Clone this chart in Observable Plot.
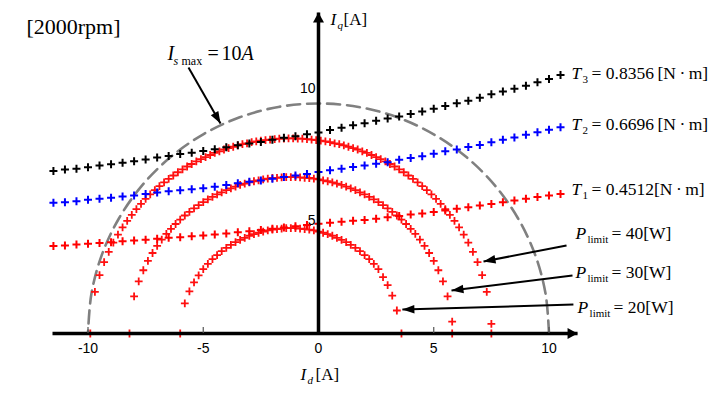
<!DOCTYPE html>
<html><head><meta charset="utf-8">
<script src="https://cdn.jsdelivr.net/npm/d3@7"></script>
<script src="https://cdn.jsdelivr.net/npm/@observablehq/plot@0.6"></script>
<style>body{margin:0;background:#fff}#chart svg{display:block}</style>
</head><body><div id="chart"></div>
<script>
// ---------- data ----------
// constant-torque curves, sampled in Id [A]
const tId = [-11.5,-11,-10.5,-10,-9.5,-9,-8.5,-8,-7.5,-7,-6.5,-6,-5.5,-5,-4.5,-4,-3.5,-3,-2.5,-2,-1.5,-1,-0.5,0,0.5,1,1.5,2,2.5,3,3.5,4,4.5,5,5.5,6,6.5,7,7.5,8,8.5,9,9.5,10,10.5];
const t3Iq = [7.06,7.13,7.16,7.23,7.30,7.36,7.42,7.49,7.57,7.65,7.72,7.80,7.86,7.93,8.01,8.10,8.19,8.26,8.33,8.42,8.51,8.58,8.66,8.74,8.85,8.95,9.05,9.14,9.25,9.35,9.44,9.54,9.65,9.77,9.89,10.01,10.12,10.25,10.40,10.52,10.64,10.77,10.92,11.07,11.24];
const t2Iq = [5.68,5.71,5.75,5.81,5.86,5.90,5.96,6.00,6.07,6.13,6.19,6.23,6.27,6.32,6.38,6.46,6.53,6.60,6.65,6.73,6.80,6.87,6.94,7.02,7.10,7.16,7.24,7.30,7.38,7.45,7.55,7.63,7.71,7.81,7.92,8.00,8.11,8.20,8.31,8.42,8.52,8.64,8.75,8.86,8.97];
const t1Iq = [3.80,3.83,3.87,3.90,3.94,3.97,4.01,4.04,4.08,4.12,4.16,4.19,4.23,4.26,4.30,4.35,4.40,4.45,4.50,4.55,4.61,4.66,4.72,4.77,4.82,4.86,4.90,4.94,4.99,5.05,5.11,5.17,5.22,5.28,5.35,5.42,5.49,5.56,5.63,5.71,5.78,5.86,5.93,6.00,6.07];
const torqueNames = ["3","2","1"];
const torqueValues = ["= 0.8356\u2009[N\u2009·\u2009m]","= 0.6696\u2009[N\u2009·\u2009m]","= 0.4512[N\u2009·\u2009m]"];

// power-limit curves
const p40Id = [-9.9,-9.7,-9.5,-9.3,-9.1,-8.9,-8.7,-8.5,-8.3,-8.1,-7.9,-7.7,-7.5,-7.3,-7.1,-6.9,-6.7,-6.5,-6.3,-6.1,-5.9,-5.7,-5.5,-5.3,-5.1,-4.9,-4.7,-4.5,-4.3,-4.1,-3.9,-3.7,-3.5,-3.3,-3.1,-2.9,-2.7,-2.5,-2.3,-2.1,-1.9,-1.7,-1.5,-1.3,-1.1,-0.9,-0.7,-0.5,-0.3,-0.1,0.1,0.3,0.5,0.7,0.9,1.1,1.3,1.5,1.7,1.9,2.1,2.3,2.5,2.7,2.9,3.1,3.3,3.5,3.7,3.9,4.1,4.3,4.5,4.7,4.9,5.1,5.3,5.5,5.7,5.9,6.1,6.3,6.5,6.7,6.9,7.1,7.3,7.5,7.5];
const p40Iq = [0,1.81,2.54,3.10,3.55,3.95,4.30,4.61,4.90,5.16,5.41,5.64,5.85,6.05,6.23,6.41,6.57,6.72,6.87,7.01,7.14,7.26,7.37,7.48,7.58,7.67,7.76,7.85,7.92,8.00,8.06,8.12,8.18,8.23,8.27,8.32,8.35,8.39,8.41,8.43,8.45,8.47,8.47,8.48,8.48,8.47,8.47,8.45,8.43,8.41,8.39,8.35,8.32,8.27,8.23,8.18,8.12,8.06,8.00,7.92,7.85,7.76,7.67,7.58,7.48,7.37,7.26,7.14,7.01,6.87,6.72,6.57,6.41,6.23,6.05,5.85,5.64,5.41,5.16,4.90,4.61,4.30,3.95,3.55,3.10,2.54,1.81,0.42,0];
const p30Id = [-8.2,-8.0,-7.8,-7.6,-7.4,-7.2,-7.0,-6.8,-6.6,-6.4,-6.2,-6.0,-5.8,-5.6,-5.4,-5.2,-5.0,-4.8,-4.6,-4.4,-4.2,-4.0,-3.8,-3.6,-3.4,-3.2,-3.0,-2.8,-2.6,-2.4,-2.2,-2.0,-1.8,-1.6,-1.4,-1.2,-1.0,-0.8,-0.6,-0.4,-0.2,0,0.2,0.4,0.6,0.8,1.0,1.2,1.4,1.6,1.8,2.0,2.2,2.4,2.6,2.8,3.0,3.2,3.4,3.6,3.8,4.0,4.2,4.4,4.6,4.8,5.0,5.2,5.4,5.6,5.8,5.8];
const p30Iq = [0,1.61,2.27,2.75,3.16,3.50,3.81,4.08,4.33,4.55,4.76,4.95,5.13,5.29,5.44,5.58,5.71,5.83,5.94,6.05,6.14,6.23,6.31,6.39,6.46,6.52,6.57,6.62,6.66,6.70,6.73,6.76,6.77,6.79,6.80,6.80,6.80,6.79,6.77,6.76,6.73,6.70,6.66,6.62,6.57,6.52,6.46,6.39,6.31,6.23,6.14,6.05,5.94,5.83,5.71,5.58,5.44,5.29,5.13,4.95,4.76,4.55,4.33,4.08,3.81,3.50,3.16,2.75,2.27,1.61,0.52,0];
const p20Id = [-6.0,-5.8,-5.6,-5.4,-5.2,-5.0,-4.8,-4.6,-4.4,-4.2,-4.0,-3.8,-3.6,-3.4,-3.2,-3.0,-2.8,-2.6,-2.4,-2.2,-2.0,-1.8,-1.6,-1.4,-1.2,-1.0,-0.8,-0.6,-0.4,-0.2,0,0.2,0.4,0.6,0.8,1.0,1.2,1.4,1.6,1.8,2.0,2.2,2.4,2.6,2.8,3.0,3.2,3.4,3.6];
const p20Iq = [0,1.31,1.83,2.22,2.53,2.80,3.03,3.23,3.41,3.58,3.72,3.85,3.97,4.07,4.16,4.25,4.32,4.38,4.43,4.48,4.52,4.54,4.56,4.58,4.58,4.58,4.56,4.54,4.52,4.48,4.43,4.38,4.32,4.25,4.16,4.07,3.97,3.85,3.72,3.58,3.41,3.23,3.03,2.80,2.45,2.10,1.65,1.00,0];
const powerValues = ["= 40[W]","= 30[W]","= 20[W]"];

// current-limit circle Is max = 10 A
const circleId = [10,9.85,9.40,8.66,7.66,6.43,5.00,3.42,1.74,0,-1.74,-3.42,-5.00,-6.43,-7.66,-8.66,-9.40,-9.85,-10];
const circleIq = [0,1.74,3.42,5.00,6.43,7.66,8.66,9.40,9.85,10,9.85,9.40,8.66,7.66,6.43,5.00,3.42,1.74,0];

const xTickValues = [-10,-5,0,5,10];
const xTickLabels = ["-10","-5","0","5","10"];
const yTickLabels = ["10","5"];

// ---------- layout ----------
const W = 710, H = 394;
const xDomain = [-13.796, 17.007], yDomain = [-2.652, 14.478];
const kx = W / (xDomain[1] - xDomain[0]), ky = H / (yDomain[1] - yDomain[0]);
const serif = "'Liberation Serif','Times New Roman',serif";
const sans = "'Liberation Sans',Arial,sans-serif";

const zip = (xs, ys) => xs.map((x, i) => ({x, y: ys[i]}));
const torqueSeries = [zip(tId, t3Iq), zip(tId, t2Iq), zip(tId, t1Iq)];
const torqueColors = ["#000000", "#0000ff", "#ff0000"];
const powerSeries = [zip(p40Id, p40Iq), zip(p30Id, p30Iq), zip(p20Id, p20Iq)];

// arrows (data coordinates)
const axisArrows = [{x1: -11.54, y1: 0, x2: 11.24, y2: 0}, {x1: 0, y1: 0, x2: 0, y2: 13.96}];
const pointerArrows = [
  {x1: -5.64, y1: 11.57, x2: -4.25, y2: 9.13},
  {x1: 10.76, y1: 3.83, x2: 7.16, y2: 3.13},
  {x1: 11.02, y1: 2.52, x2: 5.77, y2: 1.87},
  {x1: 11.06, y1: 1.26, x2: 3.64, y2: 1.04}
];
const angle = d => Math.atan2((d.x2 - d.x1) * kx, (d.y2 - d.y1) * ky) * 180 / Math.PI;

// custom symbols
const plusSym = {draw(ctx, size) { const r = Math.sqrt(size / Math.PI); ctx.moveTo(-r, 0); ctx.lineTo(r, 0); ctx.moveTo(0, -r); ctx.lineTo(0, r); }};
const headSym = w => ({draw(ctx, size) { const r = Math.sqrt(size / Math.PI); ctx.moveTo(0, 0); ctx.lineTo(-w * r, r); ctx.lineTo(w * r, r); ctx.closePath(); }});

function rich(anchor, pieces) {
  return pieces.map(p => Plot.text([anchor], {
    x: "x", y: "y", text: () => p.t, dx: p.dx || 0, dy: p.dy || 0,
    fontSize: p.size || 17.5, fontStyle: p.it ? "italic" : "normal",
    fontFamily: p.font || serif, textAnchor: "start", lineAnchor: "bottom", fill: "black"
  }));
}

const marks = [];
// current-limit circle
marks.push(Plot.line(zip(circleId, circleIq), {x: "x", y: "y", curve: "catmull-rom", stroke: "#808080", strokeWidth: 2.6, strokeDasharray: "13,7"}));
// power-limit curves
powerSeries.forEach(s => marks.push(Plot.dot(s, {x: "x", y: "y", symbol: plusSym, r: 3.9, stroke: "#ff1010", strokeWidth: 1.8, fill: "none"})));
// torque curves
torqueSeries.forEach((s, i) => marks.push(Plot.dot(s, {x: "x", y: "y", symbol: plusSym, r: 4, stroke: torqueColors[i], strokeWidth: 2, fill: "none"})));
// axes
marks.push(Plot.link(axisArrows, {x1: "x1", y1: "y1", x2: "x2", y2: "y2", stroke: "black", strokeWidth: 3.5}));
marks.push(Plot.dot(axisArrows, {x: "x2", y: "y2", rotate: angle, symbol: headSym(0.55), r: 10, fill: "black", stroke: "none"}));
marks.push(Plot.ruleX([-10, -5, 5, 10], {x: d => d, y1: 0, y2: 0.26, stroke: "#555", strokeWidth: 1.2}));
marks.push(Plot.text(xTickValues, {x: d => d, y: 0, text: (d, i) => xTickLabels[i], dy: 19, lineAnchor: "bottom", fontFamily: sans, fontSize: 14, fill: "black"}));
marks.push(Plot.text([10], {x: 0, y: d => d, text: () => yTickLabels[0], dx: -3, dy: -10, textAnchor: "end", lineAnchor: "bottom", fontFamily: sans, fontSize: 14, fill: "black"}));
marks.push(Plot.text([5], {x: 0, y: d => d, text: () => yTickLabels[1], dx: -3, dy: 7, textAnchor: "end", lineAnchor: "bottom", fontFamily: sans, fontSize: 14, fill: "black"}));
// pointer arrows
marks.push(Plot.link(pointerArrows, {x1: "x1", y1: "y1", x2: "x2", y2: "y2", stroke: "black", strokeWidth: 2}));
marks.push(Plot.dot(pointerArrows, {x: "x2", y: "y2", rotate: angle, symbol: headSym(0.36), r: 12, fill: "black", stroke: "none"}));

// labels
marks.push(...rich({x: -12.67, y: 13.04}, [{t: "[2000rpm]", size: 22}]));
marks.push(...rich({x: 0.52, y: 13.43}, [{t: "I", it: true, size: 17}, {t: "q", it: true, size: 11, dx: 7, dy: 4}, {t: "[A]", size: 17, dx: 13}]));
marks.push(...rich({x: -0.78, y: -2.04}, [{t: "I", it: true, size: 17}, {t: "d", it: true, size: 11, dx: 7, dy: 4}, {t: "[A]", size: 17, dx: 15}]));
marks.push(...rich({x: -6.55, y: 11.87}, [{t: "I", it: true, size: 20}, {t: "s", it: true, size: 12, dx: 6, dy: 5}, {t: "max", size: 12, dx: 14, dy: 5}, {t: "=", size: 20, dx: 40}, {t: "10", size: 20, dx: 54}, {t: "A", it: true, size: 20, dx: 74}]));
const tAnchors = [{x: 10.98, y: 11.07}, {x: 10.98, y: 8.83}, {x: 10.98, y: 6.0}];
tAnchors.forEach((a, i) => marks.push(...rich(a, [{t: "T", it: true}, {t: torqueNames[i], size: 11, dx: 11, dy: 4}, {t: torqueValues[i], dx: 20}])));
const pAnchors = [{x: 11.15, y: 4.09}, {x: 11.15, y: 2.43}, {x: 11.24, y: 0.91}];
pAnchors.forEach((a, i) => marks.push(...rich(a, [{t: "P", it: true}, {t: "limit", size: 11, dx: 12, dy: 4}, {t: powerValues[i], dx: 36}])));

const chart = Plot.plot({
  width: W, height: H,
  marginTop: 0, marginRight: 0, marginBottom: 0, marginLeft: 0,
  x: {domain: xDomain, axis: null},
  y: {domain: yDomain, axis: null},
  style: {background: "white", fontFamily: sans},
  marks
});
document.getElementById("chart").append(chart);
</script>
</body></html>
